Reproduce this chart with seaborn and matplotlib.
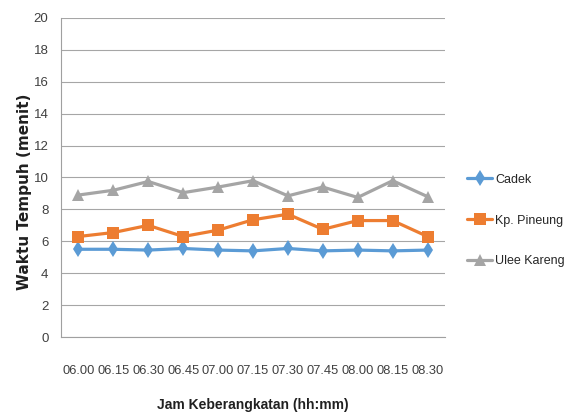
import matplotlib
matplotlib.use("Agg")
import matplotlib.pyplot as plt
import seaborn as sns
import pandas as pd
import numpy as np

times = ["06.00", "06.15", "06.30", "06.45", "07.00", "07.15",
         "07.30", "07.45", "08.00", "08.15", "08.30"]
cadek = [5.5, 5.5, 5.45, 5.55, 5.45, 5.4, 5.55, 5.4, 5.45, 5.4, 5.45]
kp_pineung = [6.3, 6.55, 7.0, 6.3, 6.7, 7.35, 7.7, 6.75, 7.3, 7.3, 6.3]
ulee_kareng = [8.9, 9.2, 9.75, 9.05, 9.4, 9.8, 8.85, 9.4, 8.75, 9.8, 8.8]
series_names = ["Cadek", "Kp. Pineung", "Ulee Kareng"]

df = pd.DataFrame({
    "pos": list(range(len(times))) * 3,
    "val": cadek + kp_pineung + ulee_kareng,
    "route": [n for n in series_names for _ in times],
})

sns.set_theme(style="white")
sans = ["Liberation Sans", "DejaVu Sans"]

fig = plt.figure(figsize=(5.68, 4.18), dpi=100)
ax = fig.add_axes([61 / 568, 81 / 418, 384 / 568, 319 / 418])

palette = {"Cadek": "#5B9BD5", "Kp. Pineung": "#ED7D31", "Ulee Kareng": "#A5A5A5"}
markers = {"Cadek": "d", "Kp. Pineung": "s", "Ulee Kareng": "^"}
sns.lineplot(data=df, x="pos", y="val", hue="route", style="route",
             palette=palette, markers=markers, dashes=False,
             markersize=8, linewidth=2.3, markeredgewidth=0, ax=ax)

ax.set_xlim(-0.5, len(times) - 0.5)
ax.set_ylim(0, 20)
ax.set_yticks(np.arange(0, 21, 2))
ax.set_yticklabels([str(v) for v in range(0, 21, 2)], family=sans,
                   fontsize=9.5, color="#404040")
ax.set_xticks(range(len(times)))
ax.set_xticklabels(times, family=sans, fontsize=9.3, color="#404040")
ax.set_xticks(np.arange(-0.5, len(times), 1), minor=True)
ax.tick_params(axis="x", which="major", length=0, pad=20)
ax.tick_params(axis="x", which="minor", length=5, color="#A0A0A0", width=0.8)
ax.tick_params(axis="y", which="major", length=5, color="#A0A0A0", width=0.8, pad=4)

ax.grid(axis="y", color="#A6A6A6", linewidth=0.8)
ax.set_axisbelow(True)
for s in ["top", "right"]:
    ax.spines[s].set_visible(False)
for s in ["left", "bottom"]:
    ax.spines[s].set_color("#A0A0A0")
    ax.spines[s].set_linewidth(0.8)

ax.set_xlabel("Jam Keberangkatan (hh:mm)", family=sans, fontsize=10,
              fontweight="bold", color="#202020")
ax.xaxis.set_label_coords(0.5, -61 / 319)
ax.set_ylabel("Waktu Tempuh (menit)", fontsize=11, fontweight="bold",
              color="#202020")
ax.yaxis.set_label_coords(-29 / 384, 0.455)

handles, labels = ax.get_legend_handles_labels()
ax.legend(handles, labels, loc="center left",
          bbox_to_anchor=(1 + 22 / 384, 0.365), borderaxespad=0, borderpad=0,
          frameon=False, prop={"family": sans, "size": 9},
          labelspacing=2.3, handlelength=2.0, handletextpad=0.25)

fig.savefig("out.png", dpi=100)
